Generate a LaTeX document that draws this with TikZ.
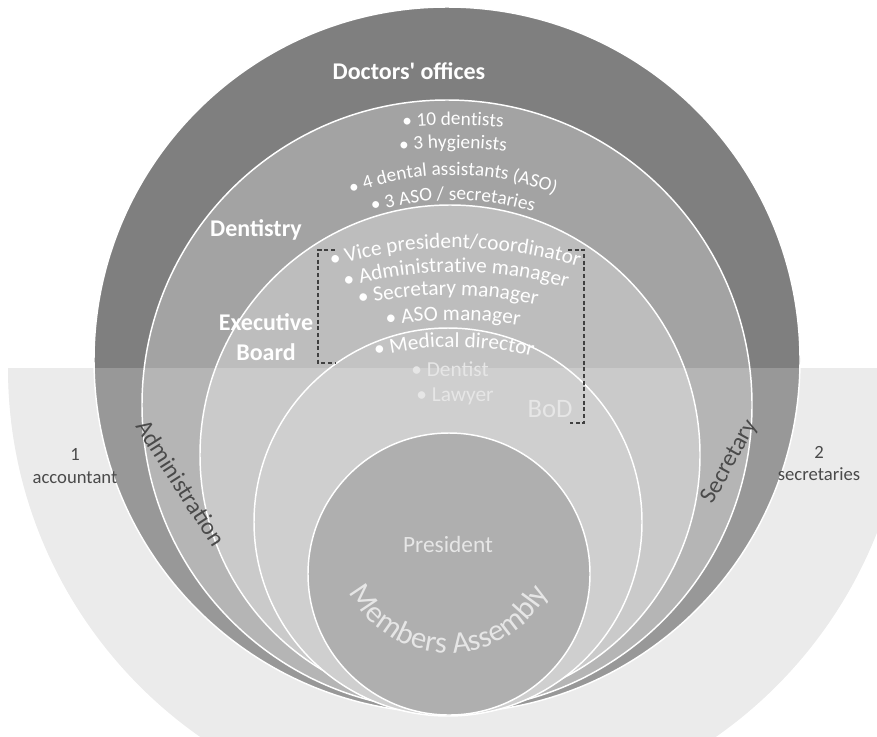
\documentclass[tikz,border=0pt]{standalone}
\usepackage{fontspec}
\setmainfont{Carlito}
\newfontfamily\plaincarlito{Carlito}
\usetikzlibrary{decorations.text}
\definecolor{docc}{HTML}{7F7F7F}
\definecolor{dentc}{HTML}{A3A3A3}
\definecolor{execc}{HTML}{BDBDBD}
\definecolor{bodc}{HTML}{C3C3C3}
\definecolor{memc}{HTML}{9C9C9C}
\definecolor{bgc}{HTML}{E6E6E6}
\definecolor{darktext}{HTML}{4A4A4A}
\definecolor{softtext}{HTML}{E6E6E6}
% #1 cx, #2 cy (px, down), #3 r, #4 start angle, #5 end angle, #6 size, #7 colour, #8 text
\newcommand{\curvetext}[8]{%
  \path[decorate, decoration={text along path, text align=center, text color=#7,
    text={|\fontsize{#6}{#6}\selectfont|#8}}]
    (#1,-#2) ++(#4:#3) arc[start angle=#4, end angle=#5, radius=#3];}
\begin{document}
\begin{tikzpicture}[x=0.75pt,y=0.75pt,
  ring/.style={fill=#1, draw=white, line width=1.1pt},
  biglabel/.style={text=white, font=\fontsize{18}{21}\selectfont\bfseries, inner sep=0pt, anchor=base},
  sidelabel/.style={text=darktext, font=\fontsize{18}{21}\selectfont, inner sep=0pt},
  smalllabel/.style={text=darktext, font=\fontsize{14}{16}\selectfont, inner sep=0pt, anchor=base},
  itemlabel/.style={text=softtext, font=\fontsize{16}{18}\selectfont, inner sep=0pt, anchor=base},
  bracket/.style={densely dashed, draw=black!75, line width=0.8pt}]
\useasboundingbox (0,0) rectangle (877,-736);
\begin{scope}
\clip (0,0) rectangle (877,-736);
% background half disc
\fill[bgc] (8,-368) arc[start angle=180, end angle=360, radius=450] -- cycle;
% nested circles
\path[ring=docc] (447,-360) circle[radius=353];
\path[ring=dentc] (447,-405) circle[radius=305];
\path[ring=execc] (450,-455) circle[radius=250];
\path[ring=bodc] (448,-522) circle[radius=194];
\path[ring=memc] (449,-574) circle[radius=141];
% translucent overlay of the lower half
\fill[white, opacity=0.2] (8,-368) arc[start angle=180, end angle=360, radius=450] -- cycle;
\end{scope}
% labels
\node[biglabel] (doc) at (409,-79) {\plaincarlito\bfseries Doctors' offices};
\node[biglabel] (dent) at (256,-236) {Dentistry};
\node[biglabel] (exec1) at (266,-330) {Executive};
\node[biglabel] (exec2) at (266,-360) {Board};
\node[sidelabel, rotate=-57.5] (adm) at (181,-483) {Administration};
\node[sidelabel, rotate=61] (sec) at (730,-462) {Secretary};
\node[smalllabel] (acc1) at (75,-460) {1};
\node[smalllabel] (acc2) at (75,-483) {accountant};
\node[smalllabel] (secs1) at (819,-458) {2};
\node[smalllabel] (secs2) at (819,-480) {secretaries};
\node[text=softtext, font=\fontsize{20}{22}\selectfont, inner sep=0pt, anchor=base] (bod) at (550,-417) {BoD};
\node[text=softtext, font=\fontsize{17.5}{20}\selectfont, inner sep=0pt, anchor=base] (pres) at (448,-552) {President};
\node[itemlabel] (dentist) at (450,-376) {• Dentist};
\node[itemlabel] (lawyer) at (455,-401) {• Lawyer};
% curved item lists
\curvetext{453}{625}{500}{115}{65}{14.5}{white}{• 10 dentists}
\curvetext{453}{548}{400}{120}{60}{14.5}{white}{• 3 hygienists}
\curvetext{453}{455}{280}{140}{40}{14.5}{white}{• 4 dental assistants (ASO)}
\curvetext{453}{480}{280}{140}{40}{14.5}{white}{• 3 ASO / secretaries}
\curvetext{455}{668}{420}{130}{50}{16}{white}{• Vice president/coordinator}
\curvetext{456}{672}{400}{130}{50}{16}{white}{• Administrative manager}
\curvetext{448}{695}{400}{125}{55}{16}{white}{• Secretary manager}
\curvetext{453}{720}{400}{125}{55}{16}{white}{• ASO manager}
\curvetext{454}{677}{330}{130}{50}{16}{white}{• Medical director}
\curvetext{449}{541}{112}{195}{345}{23}{softtext}{Members Assembly}
% dashed brackets
\draw[bracket] (335,-250) -- (318,-250) -- (318,-363) -- (335,-363);
\draw[bracket] (568,-250) -- (584,-250) -- (584,-423) -- (570,-423);
\end{tikzpicture}
\end{document}
